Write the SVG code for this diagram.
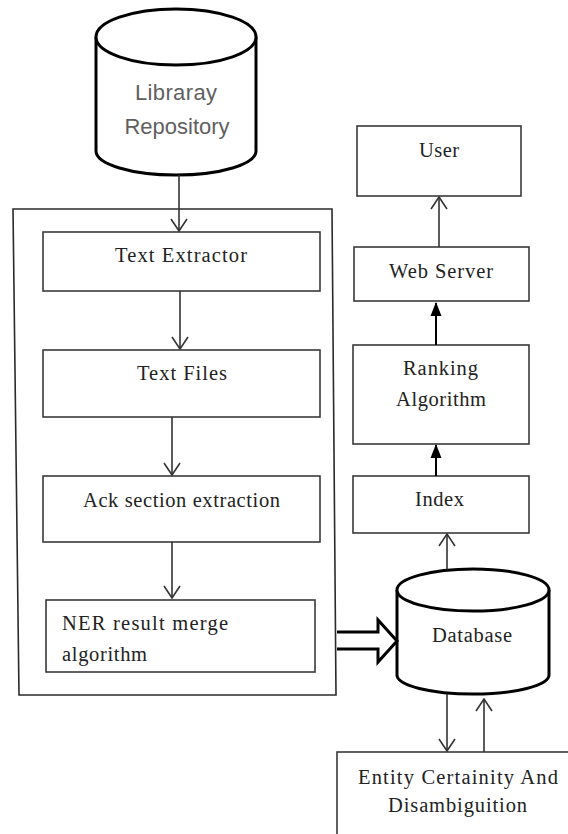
<svg xmlns="http://www.w3.org/2000/svg" width="568" height="834" viewBox="0 0 568 834">
  <defs>
    <style>
      .box { fill: #fff; stroke: #3a3a3a; stroke-width: 1.6; }
      .frame { fill: none; stroke: #2a2a2a; stroke-width: 1.6; }
      .cyl { fill: #fff; stroke: #000; stroke-width: 3; }
      .lbl { font-family: "Liberation Serif", "Times New Roman", serif; font-size: 20.5px; fill: #222; }
      .sans { font-family: "Liberation Sans", Arial, sans-serif; font-size: 22px; fill: #5f5f5f; }
      .edge { fill: none; stroke: #333; stroke-width: 1.6; }
      .edge-bold { fill: none; stroke: #000; stroke-width: 2; }
    </style>
    <!-- open V head, ~16 wide x 13 long -->
    <marker id="open" viewBox="0 0 14 18" refX="13" refY="9" markerWidth="14" markerHeight="18" markerUnits="userSpaceOnUse" orient="auto">
      <path d="M1,1 L13,9 L1,17" fill="none" stroke="#333" stroke-width="1.6"/>
    </marker>
    <!-- filled triangle head -->
    <marker id="solid" viewBox="0 0 14 12" refX="13" refY="6" markerWidth="14" markerHeight="12" markerUnits="userSpaceOnUse" orient="auto">
      <path d="M0,0.5 L14,6 L0,11.5 Z" fill="#000"/>
    </marker>
  </defs>

  <!-- processing frame -->
  <polygon class="frame" points="13,209 332,209 336,695 19,695"/>

  <!-- library repository cylinder -->
  <g id="repository">
    <path class="cyl" d="M96,37 L96,151 A80,24 0 0 0 256,151 L256,37"/>
    <ellipse class="cyl" cx="176" cy="37" rx="80" ry="28"/>
    <text class="sans" x="176" y="100" text-anchor="middle" textLength="82">Libraray</text>
    <text class="sans" x="177" y="134" text-anchor="middle" textLength="105">Repository</text>
  </g>

  <g id="text-extractor">
    <rect class="box" x="43" y="232" width="277" height="59"/>
    <text class="lbl" x="181" y="262" text-anchor="middle" textLength="132">Text Extractor</text>
  </g>

  <g id="text-files">
    <rect class="box" x="43" y="350" width="277" height="67"/>
    <text class="lbl" x="182" y="380" text-anchor="middle" textLength="90">Text Files</text>
  </g>

  <g id="ack-extraction">
    <rect class="box" x="43" y="476" width="277" height="66"/>
    <text class="lbl" x="181.5" y="507" text-anchor="middle" textLength="197">Ack section extraction</text>
  </g>

  <g id="ner-merge">
    <rect class="box" x="46" y="600" width="269" height="72"/>
    <text class="lbl" x="62" y="630" textLength="166">NER result merge</text>
    <text class="lbl" x="62" y="661" textLength="85">algorithm</text>
  </g>

  <g id="user">
    <rect class="box" x="357" y="126" width="164" height="70"/>
    <text class="lbl" x="439" y="157" text-anchor="middle" textLength="40">User</text>
  </g>

  <g id="web-server">
    <rect class="box" x="354" y="247" width="175" height="54"/>
    <text class="lbl" x="441" y="278" text-anchor="middle" textLength="104">Web Server</text>
  </g>

  <g id="ranking">
    <rect class="box" x="353" y="345" width="176" height="99"/>
    <text class="lbl" x="440.5" y="375" text-anchor="middle" textLength="75">Ranking</text>
    <text class="lbl" x="441" y="406" text-anchor="middle" textLength="90">Algorithm</text>
  </g>

  <g id="index">
    <rect class="box" x="353" y="476" width="176" height="57"/>
    <text class="lbl" x="439.5" y="506" text-anchor="middle" textLength="49">Index</text>
  </g>

  <!-- database cylinder -->
  <g id="database">
    <path class="cyl" d="M397,590 L397,675 A76,19 0 0 0 549,675 L549,590"/>
    <ellipse class="cyl" cx="473" cy="590" rx="76" ry="21"/>
    <text class="lbl" x="472" y="642" text-anchor="middle" textLength="80">Database</text>
  </g>

  <g id="entity-disambiguation">
    <rect class="box" x="337" y="752" width="240" height="100"/>
    <text class="lbl" x="458" y="784" text-anchor="middle" textLength="200">Entity Certainity And</text>
    <text class="lbl" x="457.5" y="812" text-anchor="middle" textLength="139">Disambiguition</text>
  </g>

  <!-- connectors -->
  <g id="connectors">
    <line class="edge" x1="179" y1="175" x2="179" y2="231" marker-end="url(#open)"/>
    <line class="edge" x1="180" y1="291" x2="180" y2="349" marker-end="url(#open)"/>
    <line class="edge" x1="172" y1="417" x2="172" y2="475" marker-end="url(#open)"/>
    <line class="edge" x1="172" y1="542" x2="172" y2="598" marker-end="url(#open)"/>
    <line class="edge" x1="439" y1="247" x2="439" y2="197" marker-end="url(#open)"/>
    <line class="edge-bold" x1="436" y1="345" x2="436" y2="303" marker-end="url(#solid)"/>
    <line class="edge-bold" x1="436" y1="476" x2="436" y2="445" marker-end="url(#solid)"/>
    <line class="edge" x1="447" y1="569" x2="447" y2="534" marker-end="url(#open)"/>
    <line class="edge" x1="447" y1="694" x2="447" y2="751" marker-end="url(#open)"/>
    <line class="edge" x1="484" y1="752" x2="484" y2="699" marker-end="url(#open)"/>
    <!-- hollow block arrow into database -->
    <path d="M337,632 L378,632 L378,620 L397,641 L378,662 L378,649 L337,649" fill="#fff" stroke="#000" stroke-width="3" stroke-linejoin="miter"/>
  </g>
</svg>
